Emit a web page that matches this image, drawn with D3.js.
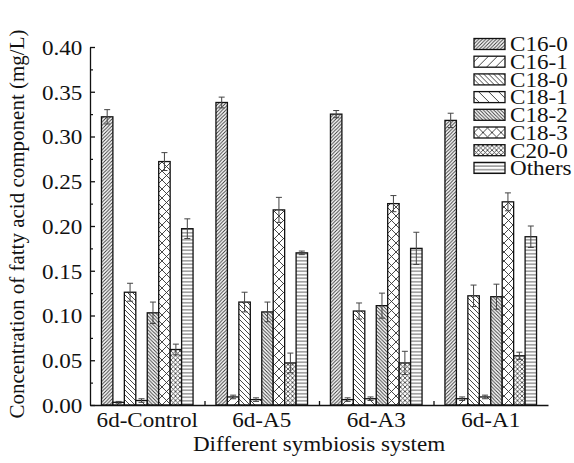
<!doctype html>
<html lang="en">
  <head>
    <meta charset="utf-8">
    <style>
    body { margin: 0; background: #fff; }
    text { font-family: "Liberation Serif", "Times New Roman", serif; fill: #111; }
    .bar { stroke: #111; stroke-width: 1.3; }
    .err { stroke: #444; stroke-width: 1; fill: none; }
    </style>
    <title>fatty acid</title>
  </head>
  <body>
    <div id="content"></div>
    <script src="https://d3js.org/d3.v7.min.js"></script>
    <script type="text/javascript">
    var w = 574;
    var h = 463;

    // data
    var groups = ['6d-Control', '6d-A5', '6d-A3', '6d-A1'];
    var series = ['C16-0', 'C16-1', 'C18-0', 'C18-1', 'C18-2', 'C18-3', 'C20-0', 'Others'];
    var control = [0.322, 0.003, 0.126, 0.005, 0.103, 0.272, 0.062, 0.197];
    var controlErr = [0.008, 0.001, 0.010, 0.002, 0.012, 0.010, 0.006, 0.011];
    var a5 = [0.338, 0.009, 0.115, 0.006, 0.104, 0.218, 0.047, 0.170];
    var a5Err = [0.006, 0.002, 0.011, 0.002, 0.011, 0.014, 0.011, 0.002];
    var a3 = [0.325, 0.006, 0.105, 0.007, 0.111, 0.225, 0.047, 0.175];
    var a3Err = [0.004, 0.002, 0.009, 0.002, 0.014, 0.009, 0.013, 0.018];
    var a1 = [0.318, 0.007, 0.122, 0.009, 0.121, 0.227, 0.055, 0.188];
    var a1Err = [0.008, 0.002, 0.012, 0.002, 0.014, 0.010, 0.004, 0.012];
    var yTicks = [0, 0.05, 0.10, 0.15, 0.20, 0.25, 0.30, 0.35, 0.40];

    var values = [control, a5, a3, a1];
    var errors = [controlErr, a5Err, a3Err, a1Err];

    var rows = [];
    groups.forEach((g, i) => {
      series.forEach((s, j) => {
        rows.push({group: g, series: s, value: values[i][j], err: errors[i][j]});
      });
    });

    var svg = d3.select('#content')
                .append('svg')
                .attr('width', w)
                .attr('height', h);

    // hatch patterns, one per series
    var defs = svg.append('defs');
    function hatch(id, size, paths, sw) {
      var p = defs.append('pattern')
        .attr('id', id)
        .attr('patternUnits', 'userSpaceOnUse')
        .attr('width', size)
        .attr('height', size);
      p.append('rect').attr('width', size).attr('height', size).attr('fill', '#fff');
      paths.forEach(d => {
        p.append('path').attr('d', d)
          .attr('stroke', '#333')
          .attr('stroke-width', sw)
          .attr('fill', 'none');
      });
    }
    function fwd(s) { return [`M0,${s} L${s},0`, `M${-s/2},${s/2} L${s/2},${-s/2}`, `M${s/2},${s*1.5} L${s*1.5},${s/2}`]; }
    function back(s) { return [`M0,0 L${s},${s}`, `M${-s/2},${s/2} L${s/2},${s*1.5}`, `M${s/2},${-s/2} L${s*1.5},${s/2}`]; }

    hatch('p0', 3.5, fwd(3.5), 0.9);
    hatch('p1', 9, fwd(9), 0.9);
    hatch('p2', 5, back(5), 0.9);
    hatch('p3', 10, back(10), 0.9);
    hatch('p4', 3.5, back(3.5), 0.9);
    hatch('p5', 9, fwd(9).concat(back(9)), 0.9);
    hatch('p6', 4.5, fwd(4.5).concat(back(4.5)), 0.8);
    hatch('p7', 3.5, ['M0,1.75 L3.5,1.75'], 0.8);

    var fillOf = d3.scaleOrdinal()
                   .domain(series)
                   .range(series.map((s, i) => `url(#p${i})`));

    var padL = 90, padR = 548, padT = 47, padB = 405;
    var sx = 1.1; // reference text looks a little wide

    var x0 = d3.scaleBand()
               .domain(groups)
               .range([padL, padR]);

    var x1 = d3.scaleBand()
               .domain(series)
               .range([0, x0.bandwidth()])
               .paddingOuter(1);

    var yScale = d3.scaleLinear()
                   .domain([0, 0.4])
                   .range([padB, padT]);

    // bars
    svg.append('g')
      .selectAll('rect')
      .data(rows)
      .enter()
      .append('rect')
      .attr('class', 'bar')
      .attr('x', d => x0(d.group) + x1(d.series))
      .attr('y', d => yScale(d.value))
      .attr('width', x1.bandwidth())
      .attr('height', d => padB - yScale(d.value))
      .attr('fill', d => fillOf(d.series));

    // error bars
    var eb = svg.append('g')
      .selectAll('g')
      .data(rows)
      .enter()
      .append('g')
      .attr('class', 'err')
      .attr('transform', d => `translate(${x0(d.group) + x1(d.series) + x1.bandwidth() / 2}, 0)`);

    eb.append('line')
      .attr('y1', d => yScale(d.value + d.err))
      .attr('y2', d => yScale(Math.max(0, d.value - d.err)));
    eb.append('line')
      .attr('x1', -3).attr('x2', 3)
      .attr('y1', d => yScale(d.value + d.err))
      .attr('y2', d => yScale(d.value + d.err));
    eb.append('line')
      .attr('x1', -3).attr('x2', 3)
      .attr('y1', d => yScale(Math.max(0, d.value - d.err)))
      .attr('y2', d => yScale(Math.max(0, d.value - d.err)));

    // y axis, ticks inside
    var yAxis = d3.axisLeft(yScale)
                  .tickValues(yTicks)
                  .tickFormat(d3.format('.2f'))
                  .tickSizeInner(-5)
                  .tickSizeOuter(0)
                  .tickPadding(7);

    var yg = svg.append('g')
      .attr('transform', `translate(${padL}, 0)`)
      .call(yAxis);
    yg.selectAll('text')
      .style('font-size', '21px')
      .attr('dy', '0.35em')
      .attr('transform', `scale(${sx},1)`);
    yg.selectAll('line, path').attr('stroke', '#111').attr('stroke-width', 1.3);

    var minor = yTicks.slice(0, -1).map(v => v + 0.025);
    var ym = svg.append('g')
      .attr('transform', `translate(${padL}, 0)`)
      .call(d3.axisLeft(yScale).tickValues(minor).tickFormat('').tickSizeInner(-3).tickSizeOuter(0));
    ym.select('.domain').remove();
    ym.selectAll('line').attr('stroke', '#111').attr('stroke-width', 1.2);

    // x axis
    var xb = d3.scaleLinear().domain([0, groups.length]).range([padL, padR]);
    var xg = svg.append('g')
      .attr('transform', `translate(0, ${padB})`)
      .call(d3.axisBottom(xb).tickValues([1, 2, 3]).tickFormat('').tickSizeInner(-4).tickSizeOuter(0));
    xg.selectAll('line, path').attr('stroke', '#111').attr('stroke-width', 1.3);

    var xl = svg.append('g')
      .attr('transform', `translate(0, ${padB})`)
      .call(d3.axisBottom(x0).tickSize(0).tickPadding(7));
    xl.select('.domain').remove();
    xl.selectAll('text')
      .style('font-size', '21px')
      .attr('transform', `scale(${sx},1)`);

    // axis titles
    svg.append('text')
      .attr('transform', `translate(${(padL + padR) / 2}, 451) scale(${sx},1)`)
      .attr('text-anchor', 'middle')
      .style('font-size', '21px')
      .text('Different symbiosis system');

    svg.append('text')
      .attr('transform', 'translate(24, 224) rotate(-90)')
      .attr('text-anchor', 'middle')
      .style('font-size', '21px')
      .text('Concentration of fatty acid component (mg/L)');

    // legend
    var legend = svg.append('g')
      .selectAll('g')
      .data(series)
      .enter()
      .append('g')
      .attr('transform', (d, i) => `translate(474, ${44 + i * 17.7})`);

    legend.append('rect')
      .attr('class', 'bar')
      .attr('x', 0)
      .attr('y', -5.5)
      .attr('width', 31)
      .attr('height', 11)
      .attr('fill', d => fillOf(d));

    legend.append('text')
      .attr('transform', `translate(36, 0) scale(${sx},1)`)
      .attr('dy', '0.35em')
      .style('font-size', '21px')
      .text(d => d);
    </script>
  </body>
</html>
